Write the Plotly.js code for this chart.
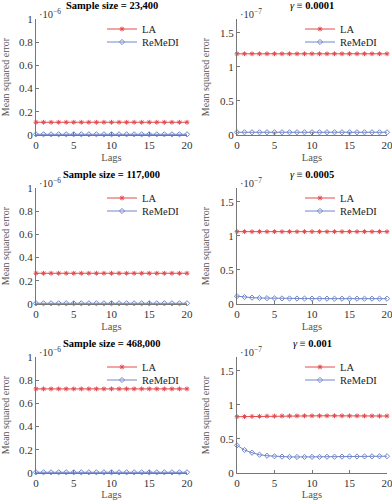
<!DOCTYPE html>
<html>
<head>
<meta charset="utf-8">
<script src="https://cdn.plot.ly/plotly-3.0.1.min.js"></script>
<style>
html,body{margin:0;padding:0;background:#fff;}
#chart{width:392px;height:500px;}
</style>
</head>
<body>
<div id="chart"></div>
<script>
// Lags (x values)
const lags = [0,1,2,3,4,5,6,7,8,9,10,11,12,13,14,15,16,17,18,19,20];

// Left column: mean squared error in units of 1e-6
const la_n23400     = [0.11,0.11,0.11,0.11,0.11,0.11,0.11,0.11,0.11,0.11,0.11,0.11,0.11,0.11,0.11,0.11,0.11,0.11,0.11,0.11,0.11];
const remedi_n23400 = [0.006,0.006,0.006,0.006,0.006,0.006,0.006,0.006,0.006,0.006,0.006,0.006,0.006,0.006,0.006,0.006,0.006,0.006,0.006,0.006,0.006];
const la_n117000     = [0.265,0.265,0.265,0.265,0.265,0.265,0.265,0.265,0.265,0.265,0.265,0.265,0.265,0.265,0.265,0.265,0.265,0.265,0.265,0.265,0.265];
const remedi_n117000 = [0.006,0.006,0.006,0.006,0.006,0.006,0.006,0.006,0.006,0.006,0.006,0.006,0.006,0.006,0.006,0.006,0.006,0.006,0.006,0.006,0.006];
const la_n468000     = [0.725,0.725,0.725,0.725,0.725,0.725,0.725,0.725,0.725,0.725,0.725,0.725,0.725,0.725,0.725,0.725,0.725,0.725,0.725,0.725,0.725];
const remedi_n468000 = [0.006,0.006,0.006,0.006,0.006,0.006,0.006,0.006,0.006,0.006,0.006,0.006,0.006,0.006,0.006,0.006,0.006,0.006,0.006,0.006,0.006];

// Right column: mean squared error in units of 1e-7
const la_g0001     = [1.19,1.19,1.19,1.19,1.19,1.19,1.19,1.19,1.19,1.19,1.19,1.19,1.19,1.19,1.19,1.19,1.19,1.19,1.19,1.19,1.19];
const remedi_g0001 = [0.04,0.04,0.04,0.04,0.04,0.04,0.04,0.04,0.04,0.04,0.04,0.04,0.04,0.04,0.04,0.04,0.04,0.04,0.04,0.04,0.04];
const la_g0005     = [1.06,1.06,1.06,1.06,1.06,1.06,1.06,1.06,1.06,1.06,1.06,1.06,1.06,1.06,1.06,1.06,1.06,1.06,1.06,1.06,1.06];
const remedi_g0005 = [0.115,0.102,0.093,0.088,0.085,0.083,0.082,0.081,0.080,0.080,0.079,0.079,0.079,0.078,0.078,0.078,0.078,0.078,0.078,0.078,0.078];
const la_g001     = [0.825,0.827,0.829,0.831,0.833,0.834,0.835,0.836,0.837,0.838,0.838,0.838,0.838,0.838,0.838,0.837,0.837,0.836,0.836,0.835,0.835];
const remedi_g001 = [0.405,0.337,0.297,0.268,0.253,0.245,0.240,0.236,0.235,0.235,0.236,0.237,0.238,0.239,0.240,0.241,0.242,0.243,0.244,0.245,0.246];

// Titles and labels
const leftTitles  = ["Sample size = 23,400","Sample size = 117,000","Sample size = 468,000"];
const rightGammas = ["0.0001","0.0005","0.001"];
const seriesNames = ["LA","ReMeDI"];
const leftTicks  = [0,0.2,0.4,0.6,0.8,1];
const rightTicks = [0,0.5,1,1.5];
const xTicks = [0,5,10,15,20];

const leftData  = [[la_n23400,remedi_n23400],[la_n117000,remedi_n117000],[la_n468000,remedi_n468000]];
const rightData = [[la_g0001,remedi_g0001],[la_g0005,remedi_g0005],[la_g001,remedi_g001]];

const W = 392, H = 500;
const FONT = "Liberation Serif";
const RED = "#e34b4f", BLUE = "#7187cc";
const colX = [[36,187],[237,387]];
const rowY = [[19,135],[188,304],[357,473]];
const legX = [102, 300];
const legDY = [10, 23];

const traces = [];
const layout = {
  width: W, height: H,
  margin: {l:0,r:0,t:0,b:0},
  paper_bgcolor: "#fff", plot_bgcolor: "#fff",
  font: {family: FONT, size: 10.5, color: "#333"},
  showlegend: true,
  annotations: [],
};

let legN = 0;
for (let r=0;r<3;r++){
  for (let c=0;c<2;c++){
    const i = r*2 + c + 1;
    const xa = i===1 ? "x" : "x"+i, ya = i===1 ? "y" : "y"+i;
    const xk = i===1 ? "xaxis" : "xaxis"+i, yk = i===1 ? "yaxis" : "yaxis"+i;
    const data = c===0 ? leftData[r] : rightData[r];
    const [x0,x1] = colX[c], [y0,y1] = rowY[r];
    [RED,BLUE].forEach((col,k)=>{
      legN++;
      const lg = legN===1 ? "legend" : "legend"+legN;
      traces.push({
        x: lags, y: data[k], xaxis: xa, yaxis: ya, legend: lg,
        name: seriesNames[k], type: "scatter", mode: "lines+markers",
        line: {color: col, width: 1},
        marker: {symbol: k===0 ? "asterisk-open" : "diamond-open", size: 4, color: col, line: {color: col, width: 1}},
        cliponaxis: false,
      });
      layout[lg] = {
        x: legX[c]/W, y: 1 - (y0+legDY[k])/H, xanchor: "left", yanchor: "middle",
        bgcolor: "rgba(0,0,0,0)", borderwidth: 0, itemwidth: 30,
        font: {family: FONT, size: 10.5, color: "#222"},
      };
    });
    layout[xk] = {
      domain: [x0/W, x1/W], anchor: ya, range: [0,20],
      tickvals: xTicks, ticks: "inside", ticklen: 3, tickcolor: "#777",
      showline: true, linecolor: "#777", linewidth: 1, showgrid: false, zeroline: false,
      ticklabeloverflow: "allow",
      tickfont: {family: FONT, size: 11, color: "#333"},
      title: {text: "Lags", font: {family: FONT, size: 10.5, color: "#555"}, standoff: 3},
    };
    layout[yk] = {
      domain: [1-y1/H, 1-y0/H], anchor: xa, range: c===0 ? [0,1] : [0,1.7],
      tickvals: c===0 ? leftTicks : rightTicks, ticks: "inside", ticklen: 3, tickcolor: "#777",
      showline: true, linecolor: "#777", linewidth: 1, showgrid: false, zeroline: false,
      ticklabeloverflow: "allow",
      tickfont: {family: FONT, size: 11, color: "#333"},
      title: {text: "Mean squared error", font: {family: FONT, size: 10, color: "#555"}, standoff: 8},
    };
    // panel title
    layout.annotations.push({
      xref: "paper", yref: "paper", x: (x0+x1)/2/W, y: 1 - (y0-14)/H, xanchor: "center", yanchor: "middle",
      text: c===0 ? "<b>"+leftTitles[r]+"</b>" : "<i>γ</i> ≡ <b>"+rightGammas[r]+"</b>",
      showarrow: false, font: {family: FONT, size: 10.5, color: "#000"},
    });
    // exponent label
    layout.annotations.push({
      xref: "paper", yref: "paper", x: (x0+1)/W, y: 1 - (y0-6)/H, xanchor: "left", yanchor: "middle",
      text: "·10<sup>−"+(c===0?6:7)+"</sup>",
      showarrow: false, font: {family: FONT, size: 10.5, color: "#333"},
    });
  }
}

Plotly.newPlot("chart", traces, layout, {staticPlot: true, displayModeBar: false});
</script>
</body>
</html>
